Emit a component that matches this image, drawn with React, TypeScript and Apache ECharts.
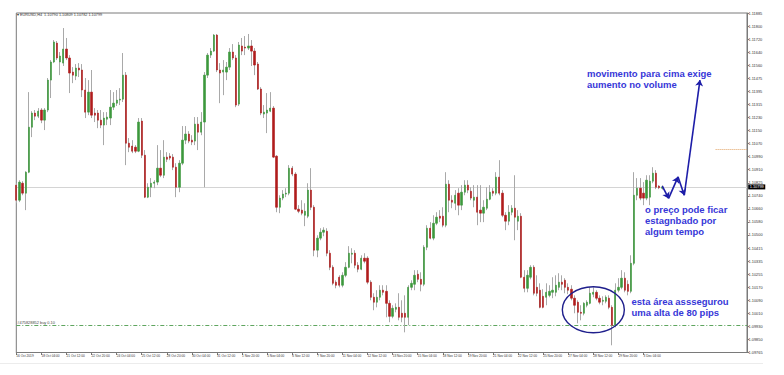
import React, { useEffect, useRef } from 'react';
import * as echarts from 'echarts';

// x-axis tick labels (one every 8 H4 bars)
const xTickLabels = [
  '16 Oct 2019', '18 Oct 04:00', '21 Oct 12:00', '22 Oct 20:00', '24 Oct 04:00', '25 Oct 12:00',
  '28 Oct 20:00', '30 Oct 04:00', '31 Oct 12:00', '1 Nov 20:00', '5 Nov 04:00', '6 Nov 12:00',
  '7 Nov 20:00', '11 Nov 04:00', '12 Nov 12:00', '13 Nov 20:00', '15 Nov 04:00', '18 Nov 12:00',
  '19 Nov 20:00', '21 Nov 04:00', '22 Nov 12:00', '25 Nov 20:00', '27 Nov 04:00', '28 Nov 12:00',
  '29 Nov 20:00', '3 Dec 04:00',
];

// y-axis tick labels, bottom to top
const yTickLabels = [
  '1.09765', '1.09850', '1.09930', '1.10010', '1.10090', '1.10170', '1.10255', '1.10335', '1.10415',
  '1.10500', '1.10580', '1.10660', '1.10740', '1.10825', '1.10910', '1.10990', '1.11070', '1.11150',
  '1.11230', '1.11315', '1.11395', '1.11475', '1.11560', '1.11640', '1.11720', '1.11800', '1.11885',
];

const opens = [
  1.10810, 1.10716, 1.10822, 1.10760, 1.10891, 1.11172, 1.11260, 1.11241, 1.11279, 1.11216,
  1.11279, 1.11466, 1.11579, 1.11697, 1.11579, 1.11572, 1.11660, 1.11604, 1.11516, 1.11491,
  1.11541, 1.11529, 1.11404, 1.11266, 1.11391, 1.11260, 1.11260, 1.11216, 1.11185, 1.11222,
  1.11229, 1.11297, 1.11322, 1.11341, 1.11347, 1.11497, 1.11072, 1.11054, 1.11047, 1.11022,
  1.11210, 1.10997, 1.10735, 1.10797, 1.10822, 1.10829, 1.10916, 1.10872, 1.10985, 1.10991,
  1.10985, 1.10922, 1.10797, 1.10947, 1.11091, 1.11129, 1.11091, 1.11085, 1.11191, 1.11141,
  1.11204, 1.11497, 1.11622, 1.11647, 1.11747, 1.11529, 1.11516, 1.11516, 1.11547, 1.11641,
  1.11604, 1.11316, 1.11679, 1.11672, 1.11666, 1.11679, 1.11647, 1.11566, 1.11410, 1.11254,
  1.11260, 1.11272, 1.11291, 1.10991, 1.10672, 1.10729, 1.10754, 1.10760, 1.10916, 1.10879,
  1.10660, 1.10654, 1.10622, 1.10616, 1.10779, 1.10672, 1.10404, 1.10479, 1.10516, 1.10522,
  1.10385, 1.10297, 1.10204, 1.10235, 1.10185, 1.10247, 1.10297, 1.10379, 1.10385, 1.10310,
  1.10285, 1.10354, 1.10354, 1.10204, 1.10110, 1.10079, 1.10110, 1.10154, 1.10147, 1.10072,
  1.09991, 1.10035, 1.10047, 1.10010, 1.10010, 1.09985, 1.10172, 1.10191, 1.10254, 1.10222,
  1.10191, 1.10422, 1.10541, 1.10479, 1.10572, 1.10616, 1.10616, 1.10560, 1.10816, 1.10716,
  1.10697, 1.10760, 1.10685, 1.10766, 1.10810, 1.10772, 1.10716, 1.10735, 1.10654, 1.10635,
  1.10666, 1.10722, 1.10772, 1.10760, 1.10860, 1.10760, 1.10622, 1.10585, 1.10641, 1.10666,
  1.10585, 1.10616, 1.10235, 1.10166, 1.10235, 1.10297, 1.10172, 1.10154, 1.10116, 1.10110,
  1.10122, 1.10141, 1.10141, 1.10172, 1.10204, 1.10216, 1.10172, 1.10160, 1.10104, 1.10079,
  1.10016, 1.10010, 1.10060, 1.10072, 1.10129, 1.10141, 1.10104, 1.10085, 1.10085, 1.10104,
  1.10047, 1.09935, 1.10154, 1.10172, 1.10229, 1.10191, 1.10147, 1.10322, 1.10747, 1.10791,
  1.10760, 1.10729, 1.10735, 1.10835, 1.10885, 1.10804, 1.10790,
];

const closes = [
  1.10716, 1.10829, 1.10760, 1.10891, 1.11172, 1.11260, 1.11241, 1.11272, 1.11216, 1.11279,
  1.11466, 1.11579, 1.11704, 1.11604, 1.11616, 1.11660, 1.11604, 1.11510, 1.11497, 1.11541,
  1.11529, 1.11404, 1.11266, 1.11391, 1.11247, 1.11247, 1.11216, 1.11185, 1.11229, 1.11235,
  1.11297, 1.11322, 1.11341, 1.11347, 1.11497, 1.11072, 1.11047, 1.11022, 1.11022, 1.11204,
  1.10997, 1.10735, 1.10797, 1.10822, 1.10829, 1.10916, 1.10872, 1.10985, 1.10972, 1.10979,
  1.10922, 1.10797, 1.10947, 1.11091, 1.11129, 1.11085, 1.11079, 1.11191, 1.11141, 1.11204,
  1.11497, 1.11622, 1.11647, 1.11747, 1.11529, 1.11510, 1.11529, 1.11547, 1.11641, 1.11604,
  1.11310, 1.11685, 1.11647, 1.11666, 1.11679, 1.11647, 1.11560, 1.11410, 1.11260, 1.11266,
  1.11279, 1.11291, 1.10985, 1.10672, 1.10729, 1.10754, 1.10760, 1.10916, 1.10879, 1.10660,
  1.10647, 1.10635, 1.10647, 1.10779, 1.10672, 1.10404, 1.10479, 1.10516, 1.10529, 1.10385,
  1.10297, 1.10197, 1.10185, 1.10185, 1.10247, 1.10297, 1.10385, 1.10385, 1.10310, 1.10285,
  1.10354, 1.10335, 1.10204, 1.10110, 1.10079, 1.10110, 1.10154, 1.10141, 1.10072, 1.09991,
  1.10041, 1.10047, 1.09985, 1.09985, 1.09985, 1.10172, 1.10197, 1.10247, 1.10222, 1.10191,
  1.10422, 1.10541, 1.10479, 1.10572, 1.10610, 1.10604, 1.10560, 1.10816, 1.10716, 1.10704,
  1.10747, 1.10685, 1.10766, 1.10810, 1.10779, 1.10729, 1.10735, 1.10641, 1.10635, 1.10672,
  1.10722, 1.10766, 1.10760, 1.10860, 1.10760, 1.10622, 1.10585, 1.10641, 1.10666, 1.10610,
  1.10616, 1.10235, 1.10166, 1.10247, 1.10297, 1.10135, 1.10135, 1.10047, 1.10047, 1.10141,
  1.10147, 1.10154, 1.10185, 1.10204, 1.10191, 1.10172, 1.10154, 1.10104, 1.10060, 1.10016,
  1.10010, 1.10072, 1.10079, 1.10135, 1.10141, 1.10104, 1.10079, 1.10091, 1.10110, 1.10047,
  1.09935, 1.10154, 1.10172, 1.10229, 1.10154, 1.10147, 1.10322, 1.10747, 1.10791, 1.10729,
  1.10729, 1.10841, 1.10835, 1.10885, 1.10797, 1.10794, 1.10799,
];

const highs = [
  1.10822, 1.10841, 1.10835, 1.10897, 1.11391, 1.11272, 1.11279, 1.11291, 1.11291, 1.11291,
  1.11479, 1.11591, 1.11716, 1.11710, 1.11641, 1.11791, 1.11729, 1.11622, 1.11547, 1.11566,
  1.11572, 1.11566, 1.11479, 1.11466, 1.11529, 1.11291, 1.11279, 1.11279, 1.11266, 1.11266,
  1.11404, 1.11391, 1.11404, 1.11416, 1.11635, 1.11516, 1.11104, 1.11091, 1.11060, 1.11229,
  1.11229, 1.11029, 1.10822, 1.10854, 1.10841, 1.11060, 1.11029, 1.11091, 1.11016, 1.11010,
  1.11004, 1.10947, 1.10966, 1.11179, 1.11179, 1.11147, 1.11122, 1.11235, 1.11235, 1.11266,
  1.11516, 1.11635, 1.11666, 1.11754, 1.11754, 1.11572, 1.11591, 1.11579, 1.11666, 1.11691,
  1.11622, 1.11704, 1.11729, 1.11741, 1.11754, 1.11716, 1.11666, 1.11579, 1.11422, 1.11310,
  1.11385, 1.11391, 1.11304, 1.10997, 1.10747, 1.10779, 1.10791, 1.10935, 1.10929, 1.10891,
  1.10685, 1.10716, 1.10697, 1.10822, 1.10916, 1.10685, 1.10497, 1.10541, 1.10547, 1.10541,
  1.10404, 1.10310, 1.10216, 1.10247, 1.10266, 1.10329, 1.10429, 1.10416, 1.10404, 1.10329,
  1.10372, 1.10385, 1.10366, 1.10216, 1.10135, 1.10154, 1.10185, 1.10185, 1.10185, 1.10091,
  1.10060, 1.10072, 1.10135, 1.10091, 1.10122, 1.10185, 1.10216, 1.10279, 1.10279, 1.10266,
  1.10435, 1.10560, 1.10579, 1.10622, 1.10641, 1.10654, 1.10672, 1.10891, 1.10841, 1.10747,
  1.10779, 1.10791, 1.10810, 1.10841, 1.10841, 1.10797, 1.10810, 1.10810, 1.10810, 1.10716,
  1.10797, 1.10810, 1.10791, 1.10891, 1.10966, 1.10779, 1.10641, 1.10685, 1.10685, 1.10872,
  1.10654, 1.10635, 1.10279, 1.10279, 1.10310, 1.10310, 1.10247, 1.10197, 1.10160, 1.10197,
  1.10185, 1.10235, 1.10247, 1.10260, 1.10247, 1.10229, 1.10197, 1.10185, 1.10122, 1.10091,
  1.10060, 1.10079, 1.10091, 1.10172, 1.10172, 1.10154, 1.10122, 1.10116, 1.10122, 1.10122,
  1.10060, 1.10197, 1.10229, 1.10279, 1.10266, 1.10216, 1.10372, 1.10891, 1.10854, 1.10854,
  1.10829, 1.10872, 1.10872, 1.10922, 1.10904, 1.10810, 1.10809,
];

const lows = [
  1.10697, 1.10704, 1.10747, 1.10654, 1.10885, 1.11110, 1.11216, 1.11229, 1.11197, 1.11154,
  1.11266, 1.11354, 1.11572, 1.11591, 1.11497, 1.11554, 1.11591, 1.11385, 1.11447, 1.11466,
  1.11485, 1.11360, 1.11229, 1.11247, 1.11229, 1.11204, 1.11166, 1.11166, 1.11060, 1.11185,
  1.11185, 1.11279, 1.11304, 1.11310, 1.11329, 1.10935, 1.11016, 1.11010, 1.11010, 1.11016,
  1.10979, 1.10729, 1.10729, 1.10735, 1.10791, 1.10810, 1.10860, 1.10854, 1.10954, 1.10966,
  1.10904, 1.10735, 1.10766, 1.10935, 1.11066, 1.11072, 1.11060, 1.11060, 1.11029, 1.11122,
  1.10797, 1.11479, 1.11604, 1.11641, 1.11516, 1.11322, 1.11372, 1.11466, 1.11529, 1.11591,
  1.11297, 1.11304, 1.11622, 1.11622, 1.11654, 1.11554, 1.11497, 1.11404, 1.11247, 1.11229,
  1.11135, 1.11266, 1.10979, 1.10641, 1.10635, 1.10716, 1.10735, 1.10747, 1.10866, 1.10654,
  1.10635, 1.10622, 1.10554, 1.10604, 1.10654, 1.10366, 1.10360, 1.10466, 1.10491, 1.10366,
  1.10279, 1.10185, 1.10166, 1.10172, 1.10172, 1.10235, 1.10291, 1.10322, 1.10291, 1.10266,
  1.10279, 1.10322, 1.10191, 1.10091, 1.10029, 1.10047, 1.10091, 1.10122, 1.09985, 1.09954,
  1.09979, 1.10016, 1.09966, 1.09954, 1.09891, 1.09935, 1.10154, 1.10154, 1.10204, 1.10147,
  1.10179, 1.10404, 1.10472, 1.10466, 1.10560, 1.10579, 1.10547, 1.10547, 1.10641, 1.10666,
  1.10654, 1.10622, 1.10654, 1.10747, 1.10760, 1.10716, 1.10672, 1.10560, 1.10579, 1.10579,
  1.10654, 1.10716, 1.10741, 1.10747, 1.10747, 1.10610, 1.10529, 1.10560, 1.10622, 1.10466,
  1.10529, 1.10229, 1.10141, 1.10141, 1.10222, 1.10122, 1.10116, 1.10041, 1.10041, 1.10060,
  1.10110, 1.10104, 1.10116, 1.10154, 1.10154, 1.10135, 1.10129, 1.10091, 1.10010, 1.09947,
  1.09966, 1.09997, 1.10047, 1.10066, 1.10110, 1.10091, 1.10066, 1.10060, 1.10072, 1.10035,
  1.09810, 1.09922, 1.10141, 1.10160, 1.10141, 1.10122, 1.10135, 1.10310, 1.10716, 1.10716,
  1.10685, 1.10716, 1.10685, 1.10822, 1.10785, 1.10785, 1.10782,
];

const symbolTitle = '▾ EURUSD,H4  1.10790 1.10809 1.10782 1.10799';
const bidPrice = 1.10799;
const bidLabel = '1.10799';
const orderPrice = 1.09935;
const orderLabel = '#475828852 buy 0.10';
const targetPrice = 1.11035;
const targetStartIndex = 223;
// annotation arrow path: [bar index, price]
const arrowPath = [
  [206, 1.10804],
  [208, 1.10727],
  [211, 1.10862],
  [213, 1.10747],
  [218, 1.11466],
];
const ellipseCenter = [184, 1.10032];
const SLOTS = 234;

const textTop = 'movimento para cima exige\naumento no volume';
const textMid = 'o preço pode ficar\nestagnbado por\nalgum tempo';
const textLow = 'esta área asssegurou\numa alta de 80 pips';

export default function App() {
  const ref = useRef<HTMLDivElement>(null);

  useEffect(() => {
    const chart = echarts.init(ref.current as HTMLDivElement, null, { renderer: 'svg' });
    const font = '"Liberation Sans", Arial, sans-serif';
    const categories = Array.from({ length: SLOTS }, (_, i) =>
      i % 8 === 0 && i / 8 < xTickLabels.length ? xTickLabels[i / 8] : ''
    );
    const ohlc = opens.map((o, i) => [o, closes[i], lows[i], highs[i]]);
    const bodies = opens.map((o, i) => [o, closes[i], Math.min(o, closes[i]), Math.max(o, closes[i])]);
    const showAt = (_idx: number, val: string) => val !== '';
    const arrowLines = arrowPath.slice(0, -1).map((p, i) => [{ coord: p }, { coord: arrowPath[i + 1] }]);
    const last = SLOTS - 1;

    chart.setOption({
      animation: false,
      backgroundColor: '#ffffff',
      textStyle: { fontFamily: font },
      grid: {
        left: 16.3, top: 13, width: 730.7, height: 339.5,
        show: true, borderColor: '#7a7a7a', borderWidth: 1, backgroundColor: '#ffffff',
      },
      xAxis: {
        type: 'category',
        data: categories,
        boundaryGap: false,
        axisLine: { lineStyle: { color: '#7a7a7a', width: 1 } },
        axisTick: { interval: showAt, length: 2.5, lineStyle: { color: '#7a7a7a' } },
        axisLabel: { interval: showAt, fontSize: 3.2, color: '#333', align: 'left', margin: 1.5, fontFamily: font },
        splitLine: { show: false },
      },
      yAxis: [
        { type: 'value', min: 1.09765, max: 1.11885, show: false, splitLine: { show: false } },
        {
          type: 'value', min: 0, max: yTickLabels.length - 1, interval: 1, position: 'right',
          axisLine: { show: true, lineStyle: { color: '#7a7a7a' } },
          axisTick: { show: true, length: 2, lineStyle: { color: '#7a7a7a' } },
          axisLabel: {
            fontSize: 3.9, color: '#333', margin: 1.5, fontFamily: font,
            formatter: (v: number) => yTickLabels[Math.round(v)] ?? '',
          },
          splitLine: { show: false },
        },
      ],
      series: [
        {
          type: 'candlestick',
          name: 'wicks',
          data: ohlc,
          barWidth: 1,
          z: 3,
          itemStyle: {
            color: '#a9a9a9', color0: '#a9a9a9', borderColor: '#a9a9a9', borderColor0: '#a9a9a9', borderWidth: 1,
          },
          markLine: {
            silent: true,
            symbol: ['none', 'arrow'],
            symbolSize: 6,
            z: 6,
            label: { show: false },
            lineStyle: { color: '#1d1da8', width: 1.6, type: 'solid' },
            data: arrowLines,
          },
        },
        {
          type: 'candlestick',
          name: 'EURUSD,H4',
          data: bodies,
          barWidth: 1.8,
          z: 4,
          itemStyle: {
            color: '#3d983d', color0: '#b01c1c', borderColor: '#3d983d', borderColor0: '#b01c1c', borderWidth: 0.6,
          },
          markLine: {
            silent: true,
            symbol: 'none',
            z: 2,
            label: { show: false },
            data: [
              [
                {
                  coord: [0, bidPrice],
                  lineStyle: { color: '#d4d4d4', type: 'solid', width: 1 },
                  label: {
                    show: true, position: 'end', formatter: bidLabel, color: '#fff', backgroundColor: '#000',
                    fontSize: 3.9, padding: [0.6, 1.5, 0.4, 1.5], distance: 1.2, fontFamily: font,
                  },
                },
                { coord: [last, bidPrice] },
              ],
              [
                {
                  coord: [0, orderPrice],
                  lineStyle: { color: '#5fa55f', type: [4, 2, 1, 2], width: 1 },
                  label: {
                    show: true, position: 'insideStartTop', formatter: orderLabel, color: '#444',
                    fontSize: 3.9, distance: 1, fontFamily: font,
                  },
                },
                { coord: [last, orderPrice] },
              ],
              [
                { coord: [targetStartIndex, targetPrice], lineStyle: { color: '#e0a060', type: 'dotted', width: 1 } },
                { coord: [last, targetPrice] },
              ],
            ],
          },
        },
      ],
    });

    const c = chart.convertToPixel({ xAxisIndex: 0, yAxisIndex: 0 }, ellipseCenter) as number[];
    chart.setOption({
      graphic: [
        {
          type: 'text', x: 17, y: 13.2, z: 10,
          style: { text: symbolTitle, fontSize: 3.8, fill: '#333', fontFamily: font, verticalAlign: 'top' },
        },
        {
          type: 'text', x: 587, y: 67.5, z: 10,
          style: { text: textTop, fontSize: 9.5, fontWeight: 'bold', lineHeight: 11, fill: '#3737d8', fontFamily: font, verticalAlign: 'top' },
        },
        {
          type: 'text', x: 645, y: 203.5, z: 10,
          style: { text: textMid, fontSize: 9.5, fontWeight: 'bold', lineHeight: 11, fill: '#3737d8', fontFamily: font, verticalAlign: 'top' },
        },
        {
          type: 'text', x: 631.5, y: 296, z: 10,
          style: { text: textLow, fontSize: 9.5, fontWeight: 'bold', lineHeight: 11, fill: '#3737d8', fontFamily: font, verticalAlign: 'top' },
        },
        {
          type: 'ellipse', z: 10,
          shape: { cx: c[0], cy: c[1], rx: 31, ry: 23 },
          style: { fill: 'none', stroke: '#1f1f8c', lineWidth: 1.4 },
        },
        {
          type: 'line', z: 1,
          shape: { x1: 0, y1: 363.5, x2: 763, y2: 363.5 },
          style: { stroke: '#ececec', lineWidth: 1 },
        },
      ],
    });

    return () => chart.dispose();
  }, []);

  return <div ref={ref} style={{ position: 'fixed', left: 0, top: 0, width: 784, height: 375, background: '#fff' }} />;
}
